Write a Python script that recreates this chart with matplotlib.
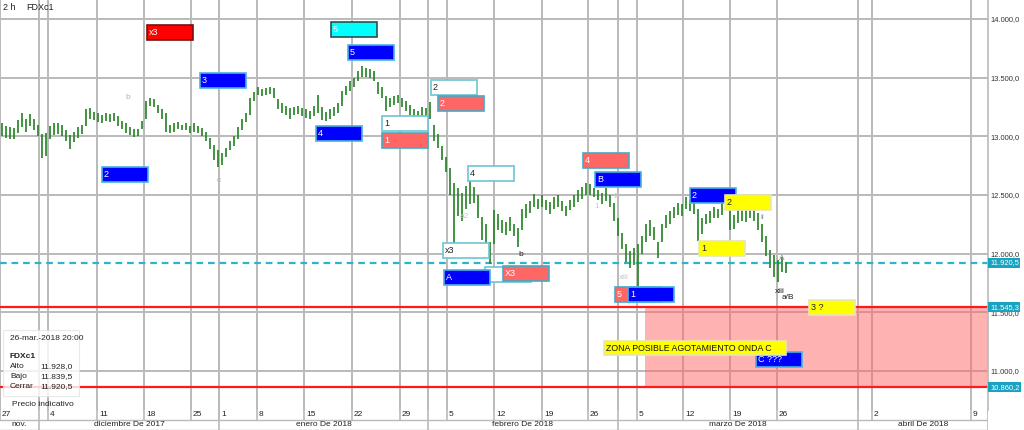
import numpy as np
import matplotlib
matplotlib.use("Agg")
import matplotlib.pyplot as plt
from matplotlib.patches import Rectangle
from matplotlib.transforms import blended_transform_factory

plt.rcParams['font.family'] = ['Liberation Sans', 'DejaVu Sans']

# 2h bars of FDXc1 (one entry per plotted bar)
high = [13110, 13090, 13080, 13070, 13140, 13195, 13150, 13190, 13150, 13100,
        13020, 13030, 13090, 13115, 13110, 13100, 13050, 13010, 13040, 13080,
        13100, 13230, 13240, 13210, 13200, 13180, 13200, 13190, 13195, 13170,
        13130, 13110, 13080, 13060, 13060, 13130, 13300, 13330, 13320, 13270,
        13230, 13200, 13100, 13110, 13120, 13100, 13110, 13090, 13110, 13090,
        13070, 13040, 12990, 12930, 12880, 12860, 12900, 12960, 13000, 13080,
        13150, 13200, 13330, 13380, 13420, 13400, 13410, 13420, 13410, 13320,
        13280, 13260, 13240, 13250, 13260, 13240, 13230, 13220, 13260, 13350,
        13250, 13210, 13230, 13250, 13280, 13390, 13430, 13470, 13500, 13560,
        13600, 13580, 13570, 13560, 13460, 13420, 13340, 13330, 13340, 13350,
        13330, 13300, 13270, 13230, 13220, 13250, 13240, 13290, 13100, 13020,
        12920, 12820, 12730, 12600, 12560, 12520, 12580, 12650, 12570, 12500,
        12310, 12250, 12100, 12370, 12340, 12290, 12270, 12310, 12250, 12220,
        12380, 12420, 12450, 12510, 12470, 12500, 12460, 12440, 12480, 12500,
        12450, 12410, 12460, 12500, 12540, 12570, 12600, 12590, 12560, 12540,
        12520, 12560, 12500, 12430, 12300, 12180, 12080, 12020, 12050, 12080,
        12150, 12250, 12290, 12230, 12100, 12250, 12330, 12360, 12400, 12430,
        12420, 12480, 12460, 12440, 12380, 12300, 12340, 12360, 12400, 12380,
        12430, 12460, 12400, 12330, 12370, 12390, 12370, 12400, 12380, 12350,
        12250, 12150, 12030, 11990, 11950, 11970, 11928]
low = [13000, 12990, 12980, 12975, 13030, 13080, 13040, 13090, 13050, 13000,
       12815, 12830, 12980, 13010, 13020, 13000, 12960, 12890, 12950, 12990,
       13020, 13090, 13150, 13140, 13120, 13110, 13130, 13120, 13130, 13090,
       13060, 13030, 13010, 12995, 13000, 13060, 13150, 13260, 13250, 13200,
       13150, 13040, 13030, 13040, 13060, 13050, 13050, 13030, 13040, 13030,
       13000, 12960, 12890, 12800, 12740, 12760, 12820, 12880, 12920, 12980,
       13050, 13120, 13180, 13300, 13350, 13340, 13350, 13360, 13330, 13230,
       13200, 13180, 13150, 13180, 13190, 13170, 13160, 13150, 13170, 13200,
       13140, 13130, 13150, 13170, 13200, 13260, 13350, 13390, 13420, 13470,
       13510, 13510, 13500, 13470, 13360, 13330, 13220, 13250, 13270, 13280,
       13250, 13220, 13180, 13160, 13150, 13160, 13160, 13150, 12960, 12900,
       12800, 12700, 12500, 12080, 12320, 12280, 12380, 12420, 12430, 12300,
       12120, 12000, 11910, 12080, 12200, 12180, 12160, 12190, 12150, 12060,
       12200, 12300, 12350, 12400, 12380, 12400, 12370, 12340, 12380, 12400,
       12360, 12320, 12370, 12400, 12440, 12470, 12500, 12500, 12480, 12460,
       12420, 12450, 12400, 12280, 12150, 12040, 11930, 11880, 11900, 11720,
       12000, 12100, 12150, 12120, 11960, 12100, 12220, 12250, 12300, 12330,
       12320, 12380, 12360, 12340, 12110, 12170, 12250, 12260, 12300, 12300,
       12330, 12370, 12200, 12210, 12260, 12280, 12270, 12300, 12280, 12200,
       12100, 11980, 11880, 11800, 11760, 11840, 11839.5]

last_close = 11920.5
zone_top = 11545.3
zone_bottom = 10860.2

# time axis (bar index units)
week_pos = [-0.5, 11.5, 23.75, 35.5, 47.25, 54.25, 63.75, 75.5, 87.5, 99.5,
            111.25, 123, 135, 146.5, 158.75, 170.25, 182, 193.75, 217.5, 242.25]
week_labels = ['27', '4', '11', '18', '25', '1', '8', '15', '22', '29',
               '5', '12', '19', '26', '5', '12', '19', '26', '2', '9']
month_bounds = [-0.5, 9.25, 54.25, 106.5, 154, 214, 246.5]
month_labels = ['nov.', 'diciembre De 2017', 'enero De 2018',
                'febrero De 2018', 'marzo De 2018', 'abril De 2018']
price_ticks = [14000, 13500, 13000, 12500, 12000, 11500, 11000]

# wave-count boxes: (text, left bar, top price, style)
boxes = [
    ('x3', 36.25, 13950, 'red'),
    ('5', 82.25, 13975, 'cyan'),
    ('5', 86.5, 13780, 'blue'),
    ('3', 49.5, 13540, 'blue'),
    ('2', 25, 12740, 'blue'),
    ('4', 78.5, 13090, 'blue'),
    ('1', 95, 13175, 'white'),
    ('1', 95, 13030, 'salmon'),
    ('2', 107.25, 13480, 'white'),
    ('2', 109, 13345, 'salmon'),
    ('4', 116.5, 12750, 'white'),
    ('x3', 110.25, 12090, 'white'),
    ('', 120.75, 11885, 'white'),
    ('A', 110.5, 11860, 'blue'),
    ('X3', 125.25, 11895, 'salmon'),
    ('4', 145.25, 12860, 'salmon'),
    ('B', 148.25, 12695, 'blue'),
    ('5', 153.25, 11715, 'salmon'),
    ('1', 156.5, 11715, 'blue'),
    ('2', 172, 12560, 'blue'),
    ('2', 180.75, 12500, 'yellow'),
    ('1', 174.25, 12108, 'yellow'),
    ('3 ?', 201.75, 11605, 'yellow'),
    ('C ???', 188.5, 11160, 'blue'),
]
zona_text = 'ZONA POSIBLE AGOTAMIENTO ONDA C'

# small wave letters: (text, bar, price, color)
wave_marks = [
    ('b', 31.5, 13335, '#b0b0b0'), ('c', 54.25, 12620, '#b0b0b0'),
    ('a2', 115.5, 12320, '#c8c8c8'),
    ('b', 129.75, 11990, '#222222'), ('1', 148.75, 12400, '#c8c8c8'),
    ('2', 153.5, 12490, '#c8c8c8'), ('xiii', 155.5, 11800, '#c8c8c8'),
    ('i', 184, 12090, '#222222'), ('ii', 190, 12310, '#999999'),
    ('A', 195, 11955, '#999999'), ('xiii', 194.5, 11680, '#222222'),
    ('a/B', 196.5, 11630, '#222222'),
]

styles = {
    'red': ('#ff0000', '#7a1010', 'white'),
    'cyan': ('#00ffff', '#2f4f4f', 'white'),
    'blue': ('#0000ff', '#46b4e0', 'white'),
    'salmon': ('#ff6666', '#46aac4', 'white'),
    'white': ('white', '#6cc4d4', '#222222'),
    'yellow': ('#ffff00', '#e6e6b0', '#222222'),
}

W, H = 1024, 430
fig = plt.figure(figsize=(W / 100, H / 100), dpi=100)
ax = fig.add_axes([0, 20 / H, 988 / W, 410 / H])
axd = fig.add_axes([0, 0, 988 / W, 20 / H])

x = np.arange(len(high))
ax.set_xlim(-0.5, 246.5)
ax.set_ylim(10668, 14162)

grid_c = '#bababa'
for p in week_pos + month_bounds[1:-1]:
    ax.axvline(p, color=grid_c, lw=1.4, zorder=0)
for p in price_ticks:
    ax.axhline(p, color=grid_c, lw=1.4, zorder=0)

# price bars
ax.vlines(x, low, high, color='#2c852c', lw=1.25, zorder=3)

# target zone
ax.add_patch(Rectangle((160.75, zone_bottom), 246.5 - 160.75, zone_top - zone_bottom,
                       facecolor='#ff6666', alpha=0.5, edgecolor='none', zorder=1))
ax.axhline(zone_top, color='#ff1a1a', lw=1.6, zorder=2)
ax.axhline(zone_bottom, color='#ff1a1a', lw=1.6, zorder=2)
ax.axhline(last_close, color='#2bb5c8', lw=1.6, ls=(0, (3, 2.2)), zorder=2)

bw, bh = 11.5, 128
for txt, bx, by, st in boxes:
    fc, ec, tc = styles[st]
    ax.add_patch(Rectangle((bx, by - bh), bw, bh, facecolor=fc, edgecolor=ec,
                           lw=1.2, zorder=5))
    ax.text(bx + 0.5, by - bh / 2, txt, color=tc, fontsize=6.5,
            va='center', ha='left', zorder=6)
ax.add_patch(Rectangle((150.5, 11255 - 118), 45.5, 118, facecolor='#ffff00',
                       edgecolor='#e6e6b0', lw=1.2, zorder=5))
ax.text(151, 11255 - 59, zona_text, fontsize=6.3, va='center', ha='left',
        color='#111111', zorder=6)

for txt, bx, by, c in wave_marks:
    ax.text(bx, by, txt, color=c, fontsize=6, ha='center', va='center', zorder=4)

# right price scale
def es_fmt(v):
    return f'{v:,.1f}'.replace(',', 'X').replace('.', ',').replace('X', '.')

ax.yaxis.tick_right()
ax.set_yticks(price_ticks)
ax.set_yticklabels([es_fmt(p) for p in price_ticks], fontsize=5.4, color='#333333')
ax.tick_params(axis='y', length=0, pad=2)
ax.set_xticks([])
for s in ['top', 'left', 'bottom']:
    ax.spines[s].set_visible(False)
ax.spines['right'].set_color(grid_c)
ax.spines['right'].set_linewidth(1.2)

tr = blended_transform_factory(ax.transAxes, ax.transData)
for v in [last_close, zone_top, zone_bottom]:
    ax.text(1.002, v, es_fmt(v), transform=tr, fontsize=5.4, color='white', va='center',
            ha='left', clip_on=False, zorder=10,
            bbox=dict(boxstyle='square,pad=0.2', fc='#1aa3c0', ec='none'))

# date rows
axd.set_xlim(-0.5, 246.5)
axd.set_ylim(0, 2)
axd.axis('off')
axd.axhline(1, color=grid_c, lw=1)
axd.axhline(0.02, color=grid_c, lw=1)
axd.plot([246.5, 246.5], [0, 2], color=grid_c, lw=1.2)
for p, lab in zip(week_pos, week_labels):
    axd.plot([p, p], [1, 2], color=grid_c, lw=1.2)
    axd.text(p + 0.5, 1.5, lab, fontsize=6, va='center', ha='left', color='#222222')
for p in month_bounds[1:-1]:
    axd.plot([p, p], [0, 2], color=grid_c, lw=1.2)
for a, b, lab in zip(month_bounds[:-1], month_bounds[1:], month_labels):
    axd.text((a + b) / 2, 0.5, lab, fontsize=6, va='center', ha='center', color='#222222')

# header and info box
def fpos(px, py):
    return px / W, 1 - py / H

fig.text(*fpos(3, 8), '2 h', fontsize=6.5, va='center', color='#222222')
fig.text(*fpos(26, 8), 'FDXc1', fontsize=6.5, va='center', color='#222222')
fig.patches.append(Rectangle(fpos(3, 396), 76 / W, 66 / H, transform=fig.transFigure,
                             facecolor='white', alpha=0.8, edgecolor='#e4e4e4', lw=0.8,
                             zorder=8))
fig.text(*fpos(10, 338), '26-mar.-2018 20:00', fontsize=6, va='center', color='#222222', zorder=9)
fig.text(*fpos(10, 356), 'FDXc1', fontsize=6, va='center', weight='bold', color='#222222', zorder=9)
for i, (name, val) in enumerate([('Alto', '11.928,0'), ('Bajo', '11.839,5'),
                                 ('Cerrar', '11.920,5')]):
    fig.text(*fpos(10, 367 + 10 * i), name, fontsize=6, va='center', color='#222222', zorder=9)
    fig.text(*fpos(73, 367 + 10 * i), val, fontsize=6, va='center', ha='right',
             color='#222222', zorder=9)
fig.text(*fpos(12, 405), 'Precio indicativo', fontsize=6, va='center', color='#222222', zorder=9)

fig.savefig('out.png', dpi=100)
